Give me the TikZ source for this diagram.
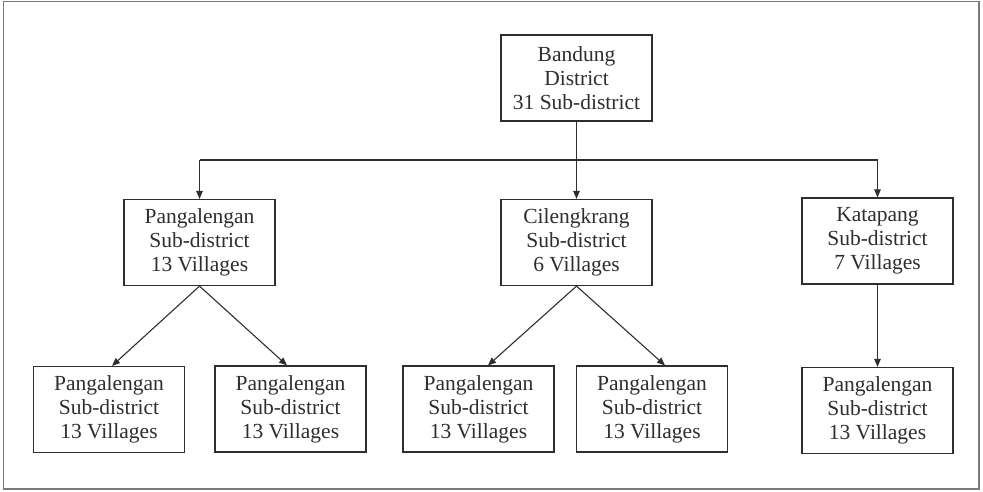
\documentclass[tikz,border=0pt]{standalone}
\usepackage{fontspec}
\setmainfont{Liberation Serif}
\usetikzlibrary{arrows.meta}
\definecolor{ink}{HTML}{2E2E2E}
\definecolor{frame}{HTML}{7A7A7A}
\begin{document}
\begin{tikzpicture}[x=1pt,y=-1pt,
  unitbox/.style={draw=ink,line width=1.2pt,minimum width=151pt,minimum height=86pt,
    inner sep=0pt,align=center,text=ink,font=\fontsize{21.5}{24}\selectfont},
  conn/.style={draw=ink,line width=1.1pt},
  arr/.style={conn,-{Triangle[length=8pt,width=6.5pt]}}]
\useasboundingbox (0,0) rectangle (983,491);
\draw[frame,line width=1.6pt] (3.5,1.5) rectangle (979,489);
\node[unitbox] (top) at (576.5,78) {Bandung\\District\\31 Sub-district};
\node[unitbox] (p1) at (199.5,242.5) {Pangalengan\\Sub-district\\13 Villages};
\node[unitbox] (c1) at (576.5,242.5) {Cilengkrang\\Sub-district\\6 Villages};
\node[unitbox] (k1) at (877.5,241) {Katapang\\Sub-district\\7 Villages};
\node[unitbox] (b1) at (109,409.5) {Pangalengan\\Sub-district\\13 Villages};
\node[unitbox] (b2) at (290.5,409) {Pangalengan\\Sub-district\\13 Villages};
\node[unitbox] (b3) at (478.5,409) {Pangalengan\\Sub-district\\13 Villages};
\node[unitbox] (b4) at (652,409) {Pangalengan\\Sub-district\\13 Villages};
\node[unitbox] (b5) at (877.5,410.5) {Pangalengan\\Sub-district\\13 Villages};
\coordinate (hl) at (199.5,160);
\coordinate (hm) at (576.5,160);
\coordinate (hr) at (877.5,160);
\draw[conn] (top.south) -- (hm);
\draw[conn] (hl) -- (hr);
\draw[arr] (hl) -- (p1.north);
\draw[arr] (hm) -- (c1.north);
\draw[arr] (hr) -- (k1.north);
\draw[arr] (p1.south) -- ([xshift=3pt]b1.north);
\draw[arr] (p1.south) -- ([xshift=-3.5pt]b2.north);
\draw[arr] (c1.south) -- ([xshift=9.5pt]b3.north);
\draw[arr] (c1.south) -- ([xshift=13pt]b4.north);
\draw[arr] (k1.south) -- (b5.north);
\end{tikzpicture}
\end{document}
